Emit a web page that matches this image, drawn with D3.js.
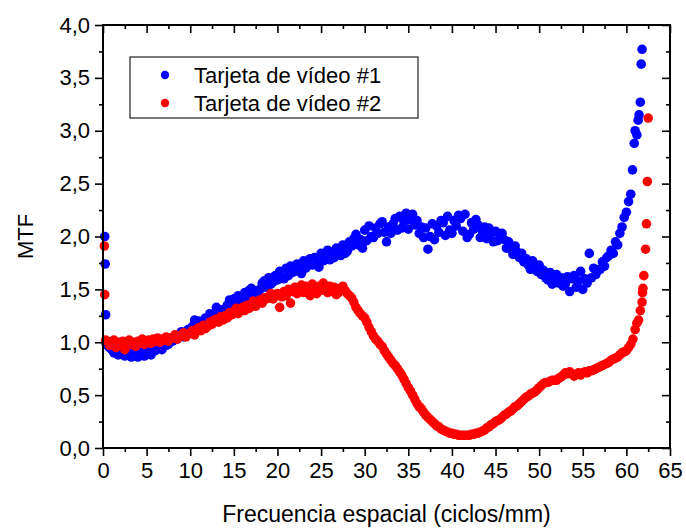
<!DOCTYPE html>
<html>
<head>
<meta charset="utf-8">
<script src="https://cdn.jsdelivr.net/npm/d3@7/dist/d3.min.js"></script>
<style>
  body { margin: 0; background: #fff; }
  text { font-family: "Liberation Sans", Arial, sans-serif; fill: #000; }
</style>
</head>
<body>
<svg id="chart" width="686" height="531"></svg>
<script>
// MTF measured on a uniform frequency grid (cycles/mm): f = fStart + i * fStep
const fStart = 0.5;
const fStep = 0.25;

const seriesNames = ["Tarjeta de vídeo #1", "Tarjeta de vídeo #2"];
const seriesColors = ["#0000ff", "#ff0000"];

// Tarjeta de vídeo #1 (one row per cycle/mm)
const mtfCard1 = [
  0.97, 0.95,
  0.93, 0.90, 0.91, 0.88,
  0.89, 0.92, 0.87, 0.91,
  0.91, 0.86, 0.88, 0.90,
  0.86, 0.90, 0.92, 0.87,
  0.93, 0.89, 0.88, 0.94,
  0.92, 0.97, 0.95, 0.93,
  1.02, 0.97, 0.98, 1.01,
  1.01, 1.06, 1.03, 1.07,
  1.10, 1.05, 1.09, 1.12,
  1.11, 1.15, 1.21, 1.12,
  1.20, 1.15, 1.17, 1.23,
  1.21, 1.27, 1.25, 1.22,
  1.33, 1.26, 1.28, 1.31,
  1.31, 1.35, 1.40, 1.33,
  1.41, 1.36, 1.44, 1.38,
  1.40, 1.47, 1.43, 1.49,
  1.51, 1.45, 1.49, 1.44,
  1.50, 1.56, 1.58, 1.52,
  1.61, 1.55, 1.57, 1.63,
  1.59, 1.67, 1.62, 1.60,
  1.70, 1.63, 1.72, 1.66,
  1.67, 1.74, 1.69, 1.65,
  1.77, 1.70, 1.74, 1.79,
  1.73, 1.80, 1.76, 1.71,
  1.84, 1.77, 1.81, 1.87,
  1.78, 1.85, 1.80, 1.89,
  1.88, 1.82, 1.92, 1.84,
  1.86, 1.95, 1.91, 1.98,
  2.02, 1.92, 1.97, 1.89,
  2.06, 1.96, 2.10, 2.00,
  1.99, 2.08, 2.03, 2.12,
  2.14, 2.04, 1.95, 2.09,
  2.03, 2.12, 2.17, 2.06,
  2.19, 2.08, 2.14, 2.22,
  2.07, 2.16, 2.21, 2.11,
  2.15, 2.03, 2.09, 1.99,
  2.08, 1.88, 2.00, 2.12,
  1.97, 2.10, 2.04, 2.15,
  2.13, 2.01, 2.19, 2.06,
  2.03, 2.15, 2.10, 2.20,
  2.17, 2.05, 2.21, 1.99,
  2.02, 2.13, 2.07, 2.16,
  2.11, 1.99, 2.05, 2.09,
  1.98, 2.08, 2.03, 1.95,
  2.05, 1.96, 1.99, 2.03,
  1.97, 1.89, 1.95, 1.88,
  1.83, 1.91, 1.85, 1.80,
  1.84, 1.76, 1.79, 1.73,
  1.69, 1.77, 1.71, 1.67,
  1.73, 1.64, 1.68, 1.61,
  1.59, 1.66, 1.55, 1.63,
  1.64, 1.56, 1.61, 1.53,
  1.55, 1.62, 1.48, 1.60,
  1.63, 1.52, 1.58, 1.67,
  1.50, 1.60, 1.56, 1.84,
  1.61, 1.70, 1.64, 1.68,
  1.69, 1.76, 1.72, 1.80,
  1.82, 1.87, 1.84, 1.95,
  1.92, 2.03, 2.09, 2.18,
  2.23, 2.33, 2.40
];

// Tarjeta de vídeo #2 (one row per cycle/mm)
const mtfCard2 = [
  1.01, 0.97,
  0.99, 1.02, 0.95, 1.00,
  0.97, 1.01, 0.93, 0.99,
  1.02, 0.98, 1.00, 0.96,
  1.01, 0.99, 1.03, 0.98,
  1.00, 1.02, 0.99, 1.03,
  1.01, 1.04, 1.00, 1.03,
  1.02, 1.05, 1.01, 1.04,
  1.04, 1.07, 1.03, 1.06,
  1.06, 1.09, 1.05, 1.08,
  1.09, 1.11, 1.07, 1.12,
  1.14, 1.11, 1.16, 1.13,
  1.15, 1.19, 1.17, 1.21,
  1.22, 1.19, 1.24, 1.21,
  1.25, 1.23, 1.28, 1.26,
  1.29, 1.32, 1.27, 1.30,
  1.33, 1.30, 1.35, 1.32,
  1.36, 1.39, 1.34, 1.38,
  1.40, 1.37, 1.42, 1.41,
  1.43, 1.46, 1.41, 1.44,
  1.46, 1.33, 1.43, 1.48,
  1.44, 1.50, 1.37, 1.48,
  1.52, 1.46, 1.50, 1.54,
  1.47, 1.53, 1.49, 1.44,
  1.55, 1.50, 1.46, 1.53,
  1.49, 1.56, 1.51, 1.47,
  1.53, 1.48, 1.52, 1.45,
  1.47, 1.51, 1.53, 1.49,
  1.46, 1.44, 1.42, 1.38,
  1.33, 1.30, 1.27, 1.25,
  1.23, 1.19, 1.14, 1.10,
  1.06, 1.03, 1.01, 0.98,
  0.96, 0.92, 0.89, 0.86,
  0.83, 0.80, 0.78, 0.75,
  0.72, 0.69, 0.65, 0.61,
  0.57, 0.54, 0.50, 0.46,
  0.42, 0.39, 0.37, 0.34,
  0.31, 0.29, 0.27, 0.25,
  0.23, 0.21, 0.20, 0.18,
  0.17, 0.16, 0.15, 0.14,
  0.14, 0.13, 0.13, 0.12,
  0.12, 0.12, 0.12, 0.12,
  0.12, 0.13, 0.13, 0.14,
  0.14, 0.15, 0.16, 0.17,
  0.19, 0.20, 0.22, 0.23,
  0.25, 0.26, 0.27, 0.29,
  0.31, 0.32, 0.34, 0.35,
  0.37, 0.39, 0.40, 0.42,
  0.44, 0.46, 0.48, 0.49,
  0.51, 0.52, 0.53, 0.55,
  0.57, 0.59, 0.61, 0.62,
  0.62, 0.63, 0.64, 0.64,
  0.64, 0.66, 0.67, 0.69,
  0.71, 0.70, 0.72, 0.70,
  0.68, 0.70, 0.71, 0.69,
  0.71, 0.72, 0.71, 0.73,
  0.73, 0.74, 0.75, 0.76,
  0.77, 0.78, 0.79, 0.80,
  0.81, 0.83, 0.84, 0.85,
  0.86, 0.88, 0.90, 0.91,
  0.92, 0.95, 0.98, 1.03,
  1.12
];

// Points off the regular grid: the zero-frequency start and the steep rise at the end
const card1Extra = [
  [0.20, 2.00], [0.25, 1.74], [0.30, 1.26], [0.35, 0.99],
  [60.7, 2.63], [60.9, 2.88], [61.0, 3.00], [61.2, 2.96], [61.35, 3.10],
  [61.45, 3.15], [61.6, 3.27], [61.7, 3.63], [61.8, 3.77]
];
const card2Extra = [
  [0.15, 1.91], [0.20, 1.45], [0.30, 1.02],
  [61.2, 1.18], [61.4, 1.21], [61.6, 1.30], [61.8, 1.38], [61.85, 1.47],
  [61.9, 1.51], [62.0, 1.63], [62.2, 1.88], [62.3, 2.12], [62.4, 2.52], [62.5, 3.12]
];

const xTicks = d3.range(0, 66, 5);
const xMinorTicks = d3.range(2.5, 65, 5);
const yTicks = d3.range(0, 4.01, 0.5);
const yMinorTicks = d3.range(0.25, 4, 0.5);

const toPoints = (vals, extra) =>
  vals.map((v, i) => [fStart + i * fStep, v]).concat(extra);
const series = [toPoints(mtfCard1, card1Extra), toPoints(mtfCard2, card2Extra)];

const svg = d3.select("#chart");
const x = d3.scaleLinear().domain([0, 65]).range([103, 670]);
const y = d3.scaleLinear().domain([0, 4]).range([448, 25]);
const fmtY = d => d3.format(".1f")(d).replace(".", ",");
const FS = 22;

// Data points (card #2 on top)
series.forEach((pts, k) => {
  svg.append("g")
    .selectAll("circle")
    .data(pts)
    .join("circle")
    .attr("cx", d => x(d[0]))
    .attr("cy", d => y(d[1]))
    .attr("r", 4.8)
    .attr("fill", seriesColors[k]);
});

// Axes: outward ticks bottom/left, inward ticks top/right
function styleAxis(g) {
  g.select(".domain").remove();
  g.selectAll(".tick line").attr("stroke", "#000").attr("stroke-width", 1.6);
  g.selectAll(".tick text").style("font-size", FS + "px");
}
svg.append("g").attr("transform", "translate(0,448)")
  .call(d3.axisBottom(x).tickValues(xTicks).tickSize(8).tickPadding(6).tickFormat(d3.format("d")))
  .call(styleAxis);
svg.append("g").attr("transform", "translate(0,448)")
  .call(d3.axisBottom(x).tickValues(xMinorTicks).tickSize(4).tickFormat(""))
  .call(styleAxis);
svg.append("g").attr("transform", "translate(0,25)")
  .call(d3.axisTop(x).tickValues(xTicks).tickSize(-8).tickFormat(""))
  .call(styleAxis);
svg.append("g").attr("transform", "translate(0,25)")
  .call(d3.axisTop(x).tickValues(xMinorTicks).tickSize(-4).tickFormat(""))
  .call(styleAxis);
svg.append("g").attr("transform", "translate(103,0)")
  .call(d3.axisLeft(y).tickValues(yTicks).tickSize(8).tickPadding(5).tickFormat(fmtY))
  .call(styleAxis);
svg.append("g").attr("transform", "translate(103,0)")
  .call(d3.axisLeft(y).tickValues(yMinorTicks).tickSize(4).tickFormat(""))
  .call(styleAxis);
svg.append("g").attr("transform", "translate(670,0)")
  .call(d3.axisRight(y).tickValues(yTicks).tickSize(-8).tickFormat(""))
  .call(styleAxis);
svg.append("g").attr("transform", "translate(670,0)")
  .call(d3.axisRight(y).tickValues(yMinorTicks).tickSize(-4).tickFormat(""))
  .call(styleAxis);

// Plot frame
svg.append("rect")
  .attr("x", 103).attr("y", 25).attr("width", 567).attr("height", 423)
  .attr("fill", "none").attr("stroke", "#000").attr("stroke-width", 2);

// Axis titles
svg.append("text")
  .attr("x", 386.5).attr("y", 522)
  .attr("text-anchor", "middle")
  .style("font-size", "23px")
  .text("Frecuencia espacial (ciclos/mm)");
svg.append("text")
  .attr("transform", "translate(33,236.5) rotate(-90)")
  .attr("text-anchor", "middle")
  .style("font-size", "22px")
  .text("MTF");

// Legend
const legend = svg.append("g");
legend.append("rect")
  .attr("x", 130).attr("y", 57).attr("width", 288).attr("height", 61)
  .attr("fill", "#fff").attr("stroke", "#222").attr("stroke-width", 1.2);
seriesNames.forEach((name, k) => {
  const cy = 75 + k * 28;
  legend.append("circle").attr("cx", 165).attr("cy", cy).attr("r", 4.2).attr("fill", seriesColors[k]);
  legend.append("text").attr("x", 194).attr("y", cy + 8)
    .style("font-size", "22px").text(name);
});
</script>
</body>
</html>
